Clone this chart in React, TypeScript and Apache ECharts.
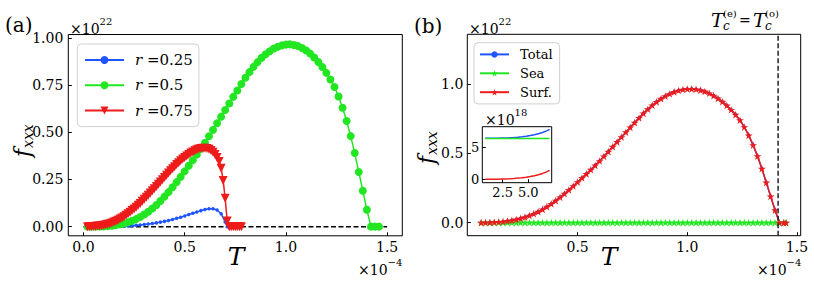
import React, { useEffect, useRef } from "react";
import * as echarts from "echarts";

const FONT = "DejaVu Serif";
const BLUE = "#1f55ff";
const GREEN = "#22e622";
const RED = "#ee1b1b";
const STAR =
  "path://M50,0 L61.2,34.5 L97.6,34.5 L68.2,55.9 L79.4,90.5 L50,69.1 L20.6,90.5 L31.8,55.9 L2.4,34.5 L38.8,34.5 Z";

// ---------- Panel (a): f_xxx (x1e22) vs T (x1e-4) ----------
const R025: number[][] = [
  [0.02, 0], [0.04, 0], [0.06, 0], [0.08, 0.0002], [0.1, 0.0004], [0.12, 0.0007], [0.14, 0.001],
  [0.16, 0.0015], [0.18, 0.002], [0.2, 0.003], [0.22, 0.004], [0.24, 0.005], [0.26, 0.007],
  [0.28, 0.009], [0.3, 0.011], [0.32, 0.014], [0.34, 0.017], [0.36, 0.02], [0.38, 0.024],
  [0.4, 0.028], [0.42, 0.033], [0.44, 0.038], [0.46, 0.044], [0.48, 0.05], [0.5, 0.057],
  [0.52, 0.064], [0.54, 0.071], [0.56, 0.078], [0.58, 0.085], [0.6, 0.091], [0.62, 0.095],
  [0.64, 0.095], [0.66, 0.088], [0.68, 0.068], [0.7, 0.025], [0.71, 0],
];
const R050: number[][] = [
  [0.02, 0], [0.04, 0], [0.06, 0.0003], [0.08, 0.0008], [0.1, 0.0015], [0.12, 0.003], [0.14, 0.005],
  [0.16, 0.008], [0.18, 0.012], [0.2, 0.017], [0.22, 0.023], [0.24, 0.031], [0.26, 0.04],
  [0.28, 0.051], [0.3, 0.064], [0.32, 0.079], [0.34, 0.096], [0.36, 0.115], [0.38, 0.136],
  [0.4, 0.159], [0.42, 0.183], [0.44, 0.209], [0.46, 0.236], [0.48, 0.264], [0.5, 0.293],
  [0.52, 0.323], [0.54, 0.352], [0.56, 0.382], [0.58, 0.413], [0.6, 0.445], [0.62, 0.479],
  [0.64, 0.513], [0.66, 0.548], [0.68, 0.583], [0.7, 0.618], [0.72, 0.653], [0.74, 0.688],
  [0.76, 0.722], [0.78, 0.756], [0.8, 0.789], [0.82, 0.819], [0.84, 0.847], [0.86, 0.872],
  [0.88, 0.895], [0.9, 0.914], [0.92, 0.93], [0.94, 0.944], [0.96, 0.954], [0.98, 0.961],
  [1.0, 0.965], [1.02, 0.966], [1.04, 0.963], [1.06, 0.957], [1.08, 0.947], [1.1, 0.934],
  [1.12, 0.917], [1.14, 0.897], [1.16, 0.873], [1.18, 0.846], [1.2, 0.815], [1.22, 0.78],
  [1.24, 0.74], [1.26, 0.69], [1.28, 0.63], [1.3, 0.56], [1.32, 0.48], [1.34, 0.39],
  [1.36, 0.29], [1.38, 0.19], [1.4, 0.09], [1.42, 0], [1.44, 0], [1.46, 0],
];
const R075: number[][] = [
  [0.02, 0], [0.03, 0], [0.04, 0.001], [0.05, 0.001], [0.06, 0.002], [0.07, 0.003], [0.08, 0.004],
  [0.09, 0.006], [0.1, 0.008], [0.11, 0.01], [0.12, 0.013], [0.13, 0.016], [0.14, 0.02],
  [0.15, 0.024], [0.16, 0.029], [0.17, 0.034], [0.18, 0.04], [0.19, 0.046], [0.2, 0.053],
  [0.21, 0.06], [0.22, 0.068], [0.23, 0.076], [0.24, 0.085], [0.25, 0.094], [0.26, 0.103],
  [0.27, 0.113], [0.28, 0.123], [0.29, 0.134], [0.3, 0.145], [0.31, 0.156], [0.32, 0.167],
  [0.33, 0.178], [0.34, 0.19], [0.35, 0.201], [0.36, 0.213], [0.37, 0.225], [0.38, 0.237],
  [0.39, 0.249], [0.4, 0.261], [0.41, 0.273], [0.42, 0.285], [0.43, 0.296], [0.44, 0.307],
  [0.45, 0.318], [0.46, 0.329], [0.47, 0.339], [0.48, 0.349], [0.49, 0.358], [0.5, 0.367],
  [0.51, 0.375], [0.52, 0.383], [0.53, 0.39], [0.54, 0.396], [0.55, 0.402], [0.56, 0.407],
  [0.57, 0.411], [0.58, 0.414], [0.59, 0.416], [0.6, 0.416], [0.61, 0.414], [0.62, 0.41],
  [0.63, 0.403], [0.64, 0.394], [0.65, 0.382], [0.66, 0.366], [0.67, 0.345], [0.68, 0.31],
  [0.69, 0.245], [0.7, 0.15], [0.71, 0.03], [0.72, 0], [0.73, 0], [0.74, 0], [0.75, 0],
  [0.76, 0], [0.77, 0], [0.78, 0],
];
const ZERO_LINE_A: number[][] = [[0, 0], [1.5, 0]];

// ---------- Panel (b): decomposition ----------
const SURF_B: number[][] = [
  [0.06, 0.0003], [0.08, 0.0008], [0.1, 0.0015], [0.12, 0.003], [0.14, 0.005],
  [0.16, 0.008], [0.18, 0.012], [0.2, 0.017], [0.22, 0.023], [0.24, 0.031], [0.26, 0.04],
  [0.28, 0.051], [0.3, 0.064], [0.32, 0.079], [0.34, 0.096], [0.36, 0.115], [0.38, 0.136],
  [0.4, 0.159], [0.42, 0.183], [0.44, 0.209], [0.46, 0.236], [0.48, 0.264], [0.5, 0.293],
  [0.52, 0.323], [0.54, 0.352], [0.56, 0.382], [0.58, 0.413], [0.6, 0.445], [0.62, 0.479],
  [0.64, 0.513], [0.66, 0.548], [0.68, 0.583], [0.7, 0.618], [0.72, 0.653], [0.74, 0.688],
  [0.76, 0.722], [0.78, 0.756], [0.8, 0.789], [0.82, 0.819], [0.84, 0.847], [0.86, 0.872],
  [0.88, 0.895], [0.9, 0.914], [0.92, 0.93], [0.94, 0.944], [0.96, 0.954], [0.98, 0.961],
  [1.0, 0.965], [1.02, 0.966], [1.04, 0.963], [1.06, 0.957], [1.08, 0.947], [1.1, 0.934],
  [1.12, 0.917], [1.14, 0.897], [1.16, 0.873], [1.18, 0.846], [1.2, 0.815], [1.22, 0.78],
  [1.24, 0.74], [1.26, 0.69], [1.28, 0.63], [1.3, 0.56], [1.32, 0.48], [1.34, 0.39],
  [1.36, 0.29], [1.38, 0.19], [1.4, 0.09], [1.42, 0], [1.44, 0], [1.45, 0],
];
const TOTAL_B: number[][] = [
  [0.06, 0.0009], [0.08, 0.0014], [0.1, 0.0021], [0.12, 0.0036], [0.14, 0.0056],
  [0.16, 0.0086], [0.18, 0.0126], [0.2, 0.0176], [0.22, 0.0236], [0.24, 0.0316], [0.26, 0.0406],
  [0.28, 0.0516], [0.3, 0.0646], [0.32, 0.0796], [0.34, 0.0966], [0.36, 0.1156], [0.38, 0.1366],
  [0.4, 0.1596], [0.42, 0.1836], [0.44, 0.2096], [0.46, 0.2366], [0.48, 0.2646], [0.5, 0.2936],
  [0.52, 0.3236], [0.54, 0.3526], [0.56, 0.3826], [0.58, 0.4136], [0.6, 0.4456], [0.62, 0.4796],
  [0.64, 0.5136], [0.66, 0.5486], [0.68, 0.5836], [0.7, 0.6186], [0.72, 0.6536], [0.74, 0.6886],
  [0.76, 0.7226], [0.78, 0.7566], [0.8, 0.7896], [0.82, 0.8196], [0.84, 0.8476], [0.86, 0.8726],
  [0.88, 0.8956], [0.9, 0.9146], [0.92, 0.9306], [0.94, 0.9446], [0.96, 0.9546], [0.98, 0.9616],
  [1.0, 0.9656], [1.02, 0.9666], [1.04, 0.9636], [1.06, 0.9576], [1.08, 0.9476], [1.1, 0.9346],
  [1.12, 0.9176], [1.14, 0.8976], [1.16, 0.8736], [1.18, 0.8466], [1.2, 0.8156], [1.22, 0.7806],
  [1.24, 0.7406], [1.26, 0.6906], [1.28, 0.6306], [1.3, 0.5606], [1.32, 0.4806], [1.34, 0.3906],
  [1.36, 0.2906], [1.38, 0.1906], [1.4, 0.0906], [1.42, 0.0006], [1.44, 0.0006], [1.45, 0.0006],
];
const SEA_B: number[][] = [
  [0.06, 0.0006], [0.08, 0.0006], [0.1, 0.0006], [0.12, 0.0006], [0.14, 0.0006], [0.16, 0.0006],
  [0.18, 0.0006], [0.2, 0.0006], [0.22, 0.0006], [0.24, 0.0006], [0.26, 0.0006], [0.28, 0.0006],
  [0.3, 0.0006], [0.32, 0.0006], [0.34, 0.0006], [0.36, 0.0006], [0.38, 0.0006], [0.4, 0.0006],
  [0.42, 0.0006], [0.44, 0.0006], [0.46, 0.0006], [0.48, 0.0006], [0.5, 0.0006], [0.52, 0.0006],
  [0.54, 0.0006], [0.56, 0.0006], [0.58, 0.0006], [0.6, 0.0006], [0.62, 0.0006], [0.64, 0.0006],
  [0.66, 0.0006], [0.68, 0.0006], [0.7, 0.0006], [0.72, 0.0006], [0.74, 0.0006], [0.76, 0.0006],
  [0.78, 0.0006], [0.8, 0.0006], [0.82, 0.0006], [0.84, 0.0006], [0.86, 0.0006], [0.88, 0.0006],
  [0.9, 0.0006], [0.92, 0.0006], [0.94, 0.0006], [0.96, 0.0006], [0.98, 0.0006], [1.0, 0.0006],
  [1.02, 0.0006], [1.04, 0.0006], [1.06, 0.0006], [1.08, 0.0006], [1.1, 0.0006], [1.12, 0.0006],
  [1.14, 0.0006], [1.16, 0.0006], [1.18, 0.0006], [1.2, 0.0006], [1.22, 0.0006], [1.24, 0.0006],
  [1.26, 0.0006], [1.28, 0.0006], [1.3, 0.0006], [1.32, 0.0006], [1.34, 0.0006], [1.36, 0.0006],
  [1.38, 0.0006], [1.4, 0.0006], [1.42, 0.0006], [1.44, 0.0006], [1.45, 0.0006],
];
const TC = 1.414;

// ---------- Inset (x1e18) ----------
const INSET_T = [0.8, 1.2, 1.6, 2.0, 2.4, 2.8, 3.2, 3.6, 4.0, 4.4, 4.8, 5.2, 5.6, 6.0, 6.4, 6.8, 7.1];
const INSET_TOTAL = [6.47, 6.48, 6.49, 6.5, 6.52, 6.54, 6.57, 6.61, 6.66, 6.73, 6.81, 6.91, 7.04, 7.2, 7.4, 7.64, 7.89];
const INSET_SEA = [6.44, 6.44, 6.44, 6.44, 6.44, 6.44, 6.44, 6.44, 6.44, 6.44, 6.44, 6.44, 6.44, 6.44, 6.44, 6.44, 6.44];
const INSET_SURF = [0.03, 0.04, 0.05, 0.06, 0.08, 0.1, 0.13, 0.17, 0.22, 0.29, 0.37, 0.47, 0.6, 0.76, 0.96, 1.2, 1.45];

// ---------- ticks ----------
const X_TICKS_A = [0, 0.5, 1.0, 1.5];
const Y_TICKS_A = [0, 0.25, 0.5, 0.75, 1.0];
const X_TICKS_B = [0.5, 1.0, 1.5];
const Y_TICKS_B = [0, 0.5, 1.0];
const INSET_X_TICKS = [2.5, 5.0];
const INSET_Y_TICKS = [0, 5];

const zip = (xs: number[], ys: number[]) => xs.map((x, i) => [x, ys[i]]);

function axis(gridIndex: number, min: number, max: number, ticks: number[], digits: number, margin: number, fontSize = 14) {
  return {
    type: "value",
    gridIndex,
    min,
    max,
    axisLine: { show: false, onZero: false },
    splitLine: { show: false },
    axisTick: { show: true, inside: true, length: 3.5, customValues: ticks, lineStyle: { color: "#000", width: 1 } },
    axisLabel: {
      show: true,
      customValues: ticks,
      formatter: (v: number) => v.toFixed(digits),
      color: "#000",
      fontFamily: FONT,
      fontSize,
      margin,
    },
  };
}

function txt(text: string, x: number, y: number, size: number, italic = false, align = "left") {
  return {
    type: "text",
    x,
    y,
    silent: true,
    style: {
      text,
      fill: "#000",
      fontSize: size,
      fontFamily: FONT,
      fontStyle: italic ? "italic" : "normal",
      align,
      verticalAlign: "middle",
    },
  };
}

// "×10^n" offset label, as rich text
function power(exp: string, x: number, y: number) {
  return {
    type: "text",
    x,
    y,
    silent: true,
    style: {
      text: `{b|×10}{s|${exp}}`,
      fill: "#000",
      fontFamily: FONT,
      align: "left",
      verticalAlign: "middle",
      rich: {
        b: { fontSize: 14, fontFamily: FONT, lineHeight: 20, verticalAlign: "bottom" },
        s: { fontSize: 10, fontFamily: FONT, lineHeight: 10, verticalAlign: "top" },
      },
    },
  };
}

function ylabel(x: number, yBottom: number) {
  return {
    type: "group",
    x,
    y: yBottom,
    rotation: Math.PI / 2,
    children: [txt("f", 0, 0, 22, true), txt("xxx", 9, 6, 14, true)],
  };
}

function line(name: string, data: number[][], color: string, symbol: string, size: number, gi: number, extra: any = {}) {
  return {
    type: "line",
    name,
    data,
    xAxisIndex: gi,
    yAxisIndex: gi,
    symbol,
    symbolSize: size,
    showSymbol: symbol !== "none",
    showAllSymbol: true,
    lineStyle: { color, width: 1.5 },
    itemStyle: { color },
    silent: true,
    emphasis: { disabled: true },
    ...extra,
  };
}

export default function App() {
  const ref = useRef<HTMLDivElement>(null);
  useEffect(() => {
    if (!ref.current) return;
    const chart = echarts.init(ref.current, null, { renderer: "svg" });
    chart.setOption({
      animation: false,
      textStyle: { fontFamily: FONT },
      grid: [
        { left: 68.3, top: 34.5, width: 334, height: 201.3, show: true, borderColor: "#000", borderWidth: 1, backgroundColor: "transparent" },
        { left: 467.3, top: 34.3, width: 333.4, height: 201.4, show: true, borderColor: "#000", borderWidth: 1, backgroundColor: "transparent" },
        { left: 482.3, top: 126.7, width: 69.4, height: 56, show: true, borderColor: "#000", borderWidth: 1, backgroundColor: "#fff" },
      ],
      xAxis: [
        axis(0, -0.075, 1.575, X_TICKS_A, 1, 4),
        axis(1, -0.003, 1.517, X_TICKS_B, 1, 4),
        axis(2, 0.5, 7.3, INSET_X_TICKS, 1, 3, 13),
      ],
      yAxis: [
        axis(0, -0.0485, 1.0185, Y_TICKS_A, 2, 5),
        axis(1, -0.094, 1.36, Y_TICKS_B, 1, 4),
        axis(2, -0.5, 8.3, INSET_Y_TICKS, 0, 3, 13),
      ],
      legend: [
        {
          data: ["r =0.25", "r =0.5", "r =0.75"],
          left: 77.3,
          top: 44,
          orient: "vertical",
          itemWidth: 39,
          itemHeight: 10,
          itemGap: 9.3,
          padding: [8, 6, 8, 6.7],
          selectedMode: false,
          backgroundColor: "rgba(255,255,255,0.8)",
          borderColor: "#d0d0d0",
          borderWidth: 1,
          borderRadius: 4,
          formatter: (n: string) => `{sp|}{i|r} =${n.split("=")[1]}`,
          textStyle: {
            fontFamily: FONT,
            color: "#000",
            fontSize: 15,
            lineHeight: 16,
            rich: { sp: { width: 6 }, i: { fontStyle: "italic", fontFamily: FONT, fontSize: 15, lineHeight: 16 } },
          },
        },
        {
          data: ["Total", "Sea", "Surf."],
          left: 474,
          top: 42.7,
          orient: "vertical",
          itemWidth: 29,
          itemHeight: 8,
          itemGap: 5.9,
          padding: [5.2, 7, 5.2, 5],
          selectedMode: false,
          backgroundColor: "rgba(255,255,255,0.8)",
          borderColor: "#d0d0d0",
          borderWidth: 1,
          borderRadius: 4,
          formatter: (n: string) => `{sp|}${n}`,
          textStyle: { fontFamily: FONT, color: "#000", fontSize: 13, lineHeight: 13, rich: { sp: { width: 6 } } },
        },
      ],
      series: [
        {
          type: "line",
          data: ZERO_LINE_A,
          xAxisIndex: 0,
          yAxisIndex: 0,
          symbol: "none",
          lineStyle: { color: "#000", width: 1.5, type: [5, 2.5] },
          silent: true,
          z: 1,
        },
        line("r =0.25", R025, BLUE, "circle", 3.5, 0),
        line("r =0.5", R050, GREEN, "circle", 8, 0),
        line("r =0.75", R075, RED, "triangle", 9, 0, { symbolRotate: 180 }),
        line("Total", TOTAL_B, BLUE, "circle", 3.5, 1),
        line("Sea", SEA_B, GREEN, STAR, 8, 1, { symbolKeepAspect: true }),
        line("Surf.", SURF_B, RED, STAR, 8, 1, { symbolKeepAspect: true }),
        {
          type: "line",
          data: [[TC, -0.094], [TC, 1.36]],
          xAxisIndex: 1,
          yAxisIndex: 1,
          symbol: "none",
          lineStyle: { color: "#222", width: 1.5, type: [5, 2.5] },
          silent: true,
          z: 5,
        },
        line("inset-total", zip(INSET_T, INSET_TOTAL), BLUE, "none", 0, 2),
        line("inset-sea", zip(INSET_T, INSET_SEA), GREEN, "none", 0, 2),
        line("inset-surf", zip(INSET_T, INSET_SURF), RED, "none", 0, 2),
      ],
      graphic: [
        txt("(a)", 5, 25, 20),
        txt("(b)", 414, 26, 20),
        power("22", 70, 26),
        power("22", 469, 26),
        power("−4", 358, 267),
        power("−4", 757, 267),
        power("18", 485, 117),
        txt("T", 236, 256, 25, true, "center"),
        txt("T", 609, 256, 25, true, "center"),
        ylabel(22, 157),
        ylabel(426, 164),
        txt("T", 711, 20, 19, true),
        txt("c", 723, 26, 12, true),
        txt("(e)", 723, 13, 10),
        txt("=", 739, 20, 14),
        txt("T", 753, 20, 19, true),
        txt("c", 765, 26, 12, true),
        txt("(o)", 765, 13, 10),
      ],
    });
    return () => chart.dispose();
  }, []);
  return <div ref={ref} style={{ position: "fixed", left: 0, top: 0, width: 814, height: 283, background: "#fff" }} />;
}
